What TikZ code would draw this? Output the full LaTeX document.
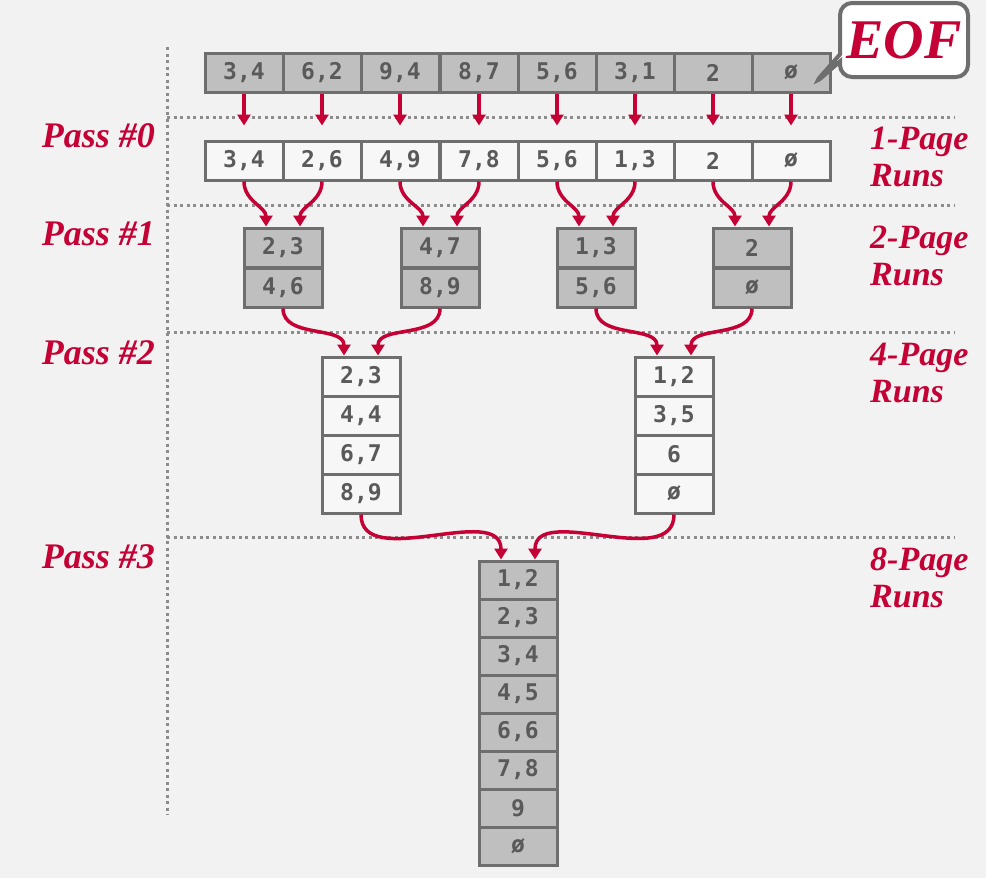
\documentclass[tikz,border=0pt]{standalone}
\usepackage{fontspec}
\usetikzlibrary{arrows.meta,shapes.callouts}
\newfontfamily\cellfont{DejaVu Sans Mono}
\newfontfamily\redfont{Liberation Serif}
\definecolor{bggray}{HTML}{F2F2F2}
\definecolor{linegray}{HTML}{6E6E6E}
\definecolor{cellgray}{HTML}{BFBFBF}
\definecolor{txtgray}{HTML}{5A5A5A}
\definecolor{dotgray}{HTML}{8C8C8C}
\definecolor{crimson}{RGB}{196,0,52}
\begin{document}
\begin{tikzpicture}[x=1pt,y=-1pt,
  cell/.style={rectangle,draw=linegray,line width=3pt,minimum width=78pt,minimum height=39pt,inner sep=0pt,text=txtgray,font=\cellfont\bfseries\fontsize{23}{27}\selectfont},
  gcell/.style={cell,fill=cellgray},
  wcell/.style={cell,fill=white!40!bggray},
  arr/.style={draw=crimson,line width=3.5pt,-{Triangle[length=11pt,width=13pt]}},
  divider/.style={draw=dotgray,line width=3pt,dash pattern=on 3pt off 3.5pt},
  passlbl/.style={anchor=base east,inner sep=0pt,text=crimson,font=\redfont\bfseries\itshape\fontsize{36}{37}\selectfont},
  runlbl/.style={anchor=base west,inner sep=0pt,align=left,text=crimson,font=\redfont\bfseries\itshape\fontsize{34}{37}\selectfont},
  eofbox/.style={rectangle callout,draw=linegray,line width=4pt,fill=white,rounded corners=12pt,minimum width=128pt,minimum height=74pt,text=crimson,font=\redfont\bfseries\itshape\fontsize{56}{60}\selectfont}
]
\fill[bggray] (0,0) rectangle (986,878);
\useasboundingbox (0,0) rectangle (986,878);

% dotted dividers
\draw[divider] (167,47) -- (167,815);
\draw[divider] (167,117) -- (955,117);
\draw[divider] (167,205) -- (955,205);
\draw[divider] (167,332) -- (955,332);
\draw[divider] (167,537) -- (955,537);

% input file
\node[gcell] (in1) at (244,72.5){3,4};
\node[gcell] (in2) at (322,72.5){6,2};
\node[gcell] (in3) at (400,72.5){9,4};
\node[gcell] (in4) at (479,72.5){8,7};
\node[gcell] (in5) at (557,72.5){5,6};
\node[gcell] (in6) at (635,72.5){3,1};
\node[gcell] (in7) at (713,72.5){2};
\node[gcell] (in8) at (791,72.5){ø};
\node[eofbox,callout absolute pointer={(813,85)}] (eof) at (904,40){EOF};

% pass 0
\node[wcell] (p0r1) at (244,160.5){3,4};
\node[wcell] (p0r2) at (322,160.5){2,6};
\node[wcell] (p0r3) at (400,160.5){4,9};
\node[wcell] (p0r4) at (479,160.5){7,8};
\node[wcell] (p0r5) at (557,160.5){5,6};
\node[wcell] (p0r6) at (635,160.5){1,3};
\node[wcell] (p0r7) at (713,160.5){2};
\node[wcell] (p0r8) at (791,160.5){ø};

% pass 1
\node[gcell] (p1r1a) at (283,247.5){2,3};
\node[gcell] (p1r1b) at (283,287.5){4,6};
\node[gcell] (p1r2a) at (440,247.5){4,7};
\node[gcell] (p1r2b) at (440,287.5){8,9};
\node[gcell] (p1r3a) at (596,247.5){1,3};
\node[gcell] (p1r3b) at (596,287.5){5,6};
\node[gcell] (p1r4a) at (752,247.5){2};
\node[gcell] (p1r4b) at (752,287.5){ø};

% pass 2
\node[wcell] (p2r1a) at (361,376.5){2,3};
\node[wcell] (p2r1b) at (361,415.5){4,4};
\node[wcell] (p2r1c) at (361,454.5){6,7};
\node[wcell] (p2r1d) at (361,493.5){8,9};
\node[wcell] (p2r2a) at (674,376.5){1,2};
\node[wcell] (p2r2b) at (674,415.5){3,5};
\node[wcell] (p2r2c) at (674,454.5){6};
\node[wcell] (p2r2d) at (674,493.5){ø};

% pass 3
\node[gcell,minimum height=38pt] (p3a) at (518,580){1,2};
\node[gcell,minimum height=38pt] (p3b) at (518,618){2,3};
\node[gcell,minimum height=38pt] (p3c) at (518,656){3,4};
\node[gcell,minimum height=38pt] (p3d) at (518,694){4,5};
\node[gcell,minimum height=38pt] (p3e) at (518,732){6,6};
\node[gcell,minimum height=38pt] (p3f) at (518,770){7,8};
\node[gcell,minimum height=38pt] (p3g) at (518,808){9};
\node[gcell,minimum height=38pt] (p3h) at (518,846){ø};

% labels
\node[passlbl] (pass0) at (155,147){Pass \#0};
\node[passlbl] (pass1) at (155,245){Pass \#1};
\node[passlbl] (pass2) at (155,364){Pass \#2};
\node[passlbl] (pass3) at (155,568){Pass \#3};
\node[runlbl] (runs1) at (870,186){1-Page\\Runs};
\node[runlbl] (runs2) at (870,285){2-Page\\Runs};
\node[runlbl] (runs4) at (870,402){4-Page\\Runs};
\node[runlbl] (runs8) at (870,607){8-Page\\Runs};

\path (in1) edge[arr,shorten >=14pt] (p0r1); \path (in2) edge[arr,shorten >=14pt] (p0r2);
\path (in3) edge[arr,shorten >=14pt] (p0r3); \path (in4) edge[arr,shorten >=14pt] (p0r4);
\path (in5) edge[arr,shorten >=14pt] (p0r5); \path (in6) edge[arr,shorten >=14pt] (p0r6);
\path (in7) edge[arr,shorten >=14pt] (p0r7); \path (in8) edge[arr,shorten >=14pt] (p0r8);

\path (p0r1.south) edge[arr,out=-90,in=90] ([xshift=-17pt]p1r1a.north); \path (p0r2.south) edge[arr,out=-90,in=90] ([xshift=17pt]p1r1a.north);
\path (p0r3.south) edge[arr,out=-90,in=90] ([xshift=-17pt]p1r2a.north); \path (p0r4.south) edge[arr,out=-90,in=90] ([xshift=17pt]p1r2a.north);
\path (p0r5.south) edge[arr,out=-90,in=90] ([xshift=-17pt]p1r3a.north); \path (p0r6.south) edge[arr,out=-90,in=90] ([xshift=17pt]p1r3a.north);
\path (p0r7.south) edge[arr,out=-90,in=90] ([xshift=-17pt]p1r4a.north); \path (p0r8.south) edge[arr,out=-90,in=90] ([xshift=17pt]p1r4a.north);

\path (p1r1b.south) edge[arr,out=-90,in=90] ([xshift=-17pt]p2r1a.north); \path (p1r2b.south) edge[arr,out=-90,in=90] ([xshift=17pt]p2r1a.north);
\path (p1r3b.south) edge[arr,out=-90,in=90] ([xshift=-17pt]p2r2a.north); \path (p1r4b.south) edge[arr,out=-90,in=90] ([xshift=17pt]p2r2a.north);

\path (p2r1d.south) edge[arr,out=-90,in=90] ([xshift=-17pt]p3a.north); \path (p2r2d.south) edge[arr,out=-90,in=90] ([xshift=17pt]p3a.north);
\end{tikzpicture}
\end{document}
